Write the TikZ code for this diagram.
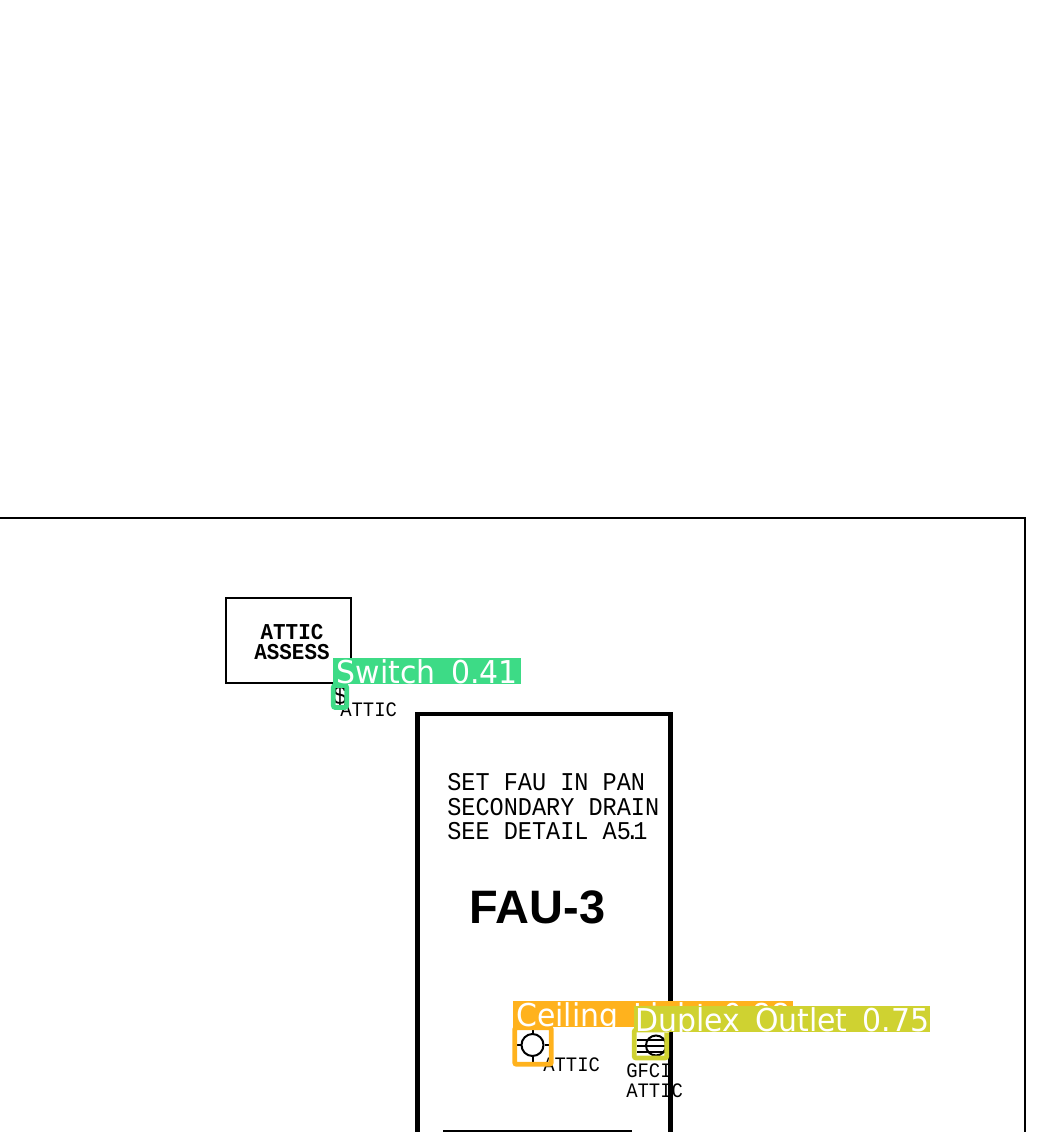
\documentclass[tikz,border=0pt]{standalone}
\usepackage{fontspec}
\setmainfont{Liberation Sans}
\newfontfamily\cadfont[FakeStretch=0.92]{Liberation Mono}
\newfontfamily\tagfont[FakeStretch=0.95,WordSpace=1.6]{DejaVu Sans}
\usetikzlibrary{positioning}
\definecolor{switchgreen}{HTML}{3DDB86}
\definecolor{ceilorange}{HTML}{FFB21D}
\definecolor{duplexolive}{HTML}{CFD231}
\tikzstyle{thinwall} = [draw=black, line width=1.8pt]
\tikzstyle{cadtext} = [inner sep=0pt, anchor=west, font=\cadfont\fontsize{15.4}{15}\selectfont]
\tikzstyle{notetext} = [inner sep=0pt, anchor=west, align=left, font=\cadfont\fontsize{19.2}{18.4}\selectfont]
\tikzstyle{tag} = [inner sep=0pt, anchor=north west, text height=18.7pt, text depth=0.8pt, text=white, font=\tagfont\fontsize{23.6}{24}\selectfont]
\tikzstyle{hit} = [rectangle, rounded corners=1.5pt, line width=3.6pt, fill=none, inner sep=0pt]
\tikzstyle{symbol} = [circle, draw=black, line width=1.5pt, minimum size=16.5pt, inner sep=0pt]
\tikzstyle{tick} = [line width=1.5pt]
\begin{document}
\begin{tikzpicture}[x=0.75pt, y=-0.75pt]
	\useasboundingbox (0,0) rectangle (1061,1132);
	\coordinate (roofa) at (0,518);
	\coordinate (roofb) at (1025,518);
	\coordinate (roofc) at (1025,1132);
	\draw [line width=1.2pt] (roofa) -- (roofb) -- (roofc);

	\node (access) [thinwall, minimum width=93.75pt, minimum height=63.75pt, inner sep=0pt, anchor=north west] at (224.5,596.5) {};
	\node (accesstext) [align=center, inner sep=0pt, font=\cadfont\bfseries\fontsize{17}{15}\selectfont] at (292,642) {ATTIC\\ASSESS};

	\coordinate (faua) at (417.5,1134);
	\coordinate (faub) at (417.5,714);
	\coordinate (fauc) at (670.5,714);
	\coordinate (faud) at (670.5,1134);
	\draw [line width=3.4pt, line join=miter] (faua) -- (faub) -- (fauc) -- (faud);
	\coordinate (benchl) at (443,1131);
	\coordinate (benchr) at (632,1131);
	\draw [line width=1.5pt] (benchl) -- (benchr);

	\node (fautext) [notetext] at (447,807) {SET FAU IN PAN\\SECONDARY DRAIN\\SEE DETAIL A5\kern-.22em.\kern-.24em 1};
	\node (fauname) [inner sep=0pt, font=\bfseries\fontsize{35.2}{36}\selectfont] at (537.5,907) {FAU-3};

	\node (swtext) [cadtext] at (340,710) {ATTIC};
	\node (dollar) [inner sep=0pt, font=\cadfont\fontsize{20}{15}\selectfont] at (340,696) {\$};

	\node (lamptext) [cadtext] at (543,1065) {ATTIC};
	\node (lamp) [symbol] at (532.5,1045) {};
	\draw [tick] (lamp.north) -- ++(0,-6);
	\draw [tick] (lamp.south) -- ++(0,6);
	\draw [tick] (lamp.west) -- ++(-6,0);
	\draw [tick] (lamp.east) -- ++(6,0);

	\node (gfcitext) [cadtext] at (626,1071) {GFCI};
	\node (gfciroom) [cadtext] at (626,1091) {ATTIC};
	\node (outlet) [symbol, minimum size=15pt] at (656,1045.5) {};
	\coordinate (linea) at (637,1039.5);
	\coordinate (lineb) at (637,1045.5);
	\coordinate (linec) at (637,1051.5);
	\draw [tick] (linea) -- (linea -| outlet.east);
	\draw [tick] (lineb) -- (lineb -| outlet.east);
	\draw [tick] (linec) -- (linec -| outlet.east);

	\node (swbox) [hit, draw=switchgreen, minimum width=10pt, minimum height=16.5pt] at (340,696.5) {};
	\node (lampbox) [hit, draw=ceilorange, minimum width=27.5pt, minimum height=27.5pt] at (533,1046) {};
	\node (outletbox) [hit, draw=duplexolive, minimum width=24.5pt, minimum height=21pt] at (650.5,1044) {};

	\node (swtag) [tag, fill=switchgreen, minimum width=141pt] at (333,658) {Switch 0.41};
	\node (lamptag) [tag, fill=ceilorange, minimum width=210pt] at (513,1001) {Ceiling Light 0.88};
	\node (outlettag) [tag, fill=duplexolive, minimum width=222pt] at (634,1006) {Duplex Outlet 0.75};
\end{tikzpicture}
\end{document}
